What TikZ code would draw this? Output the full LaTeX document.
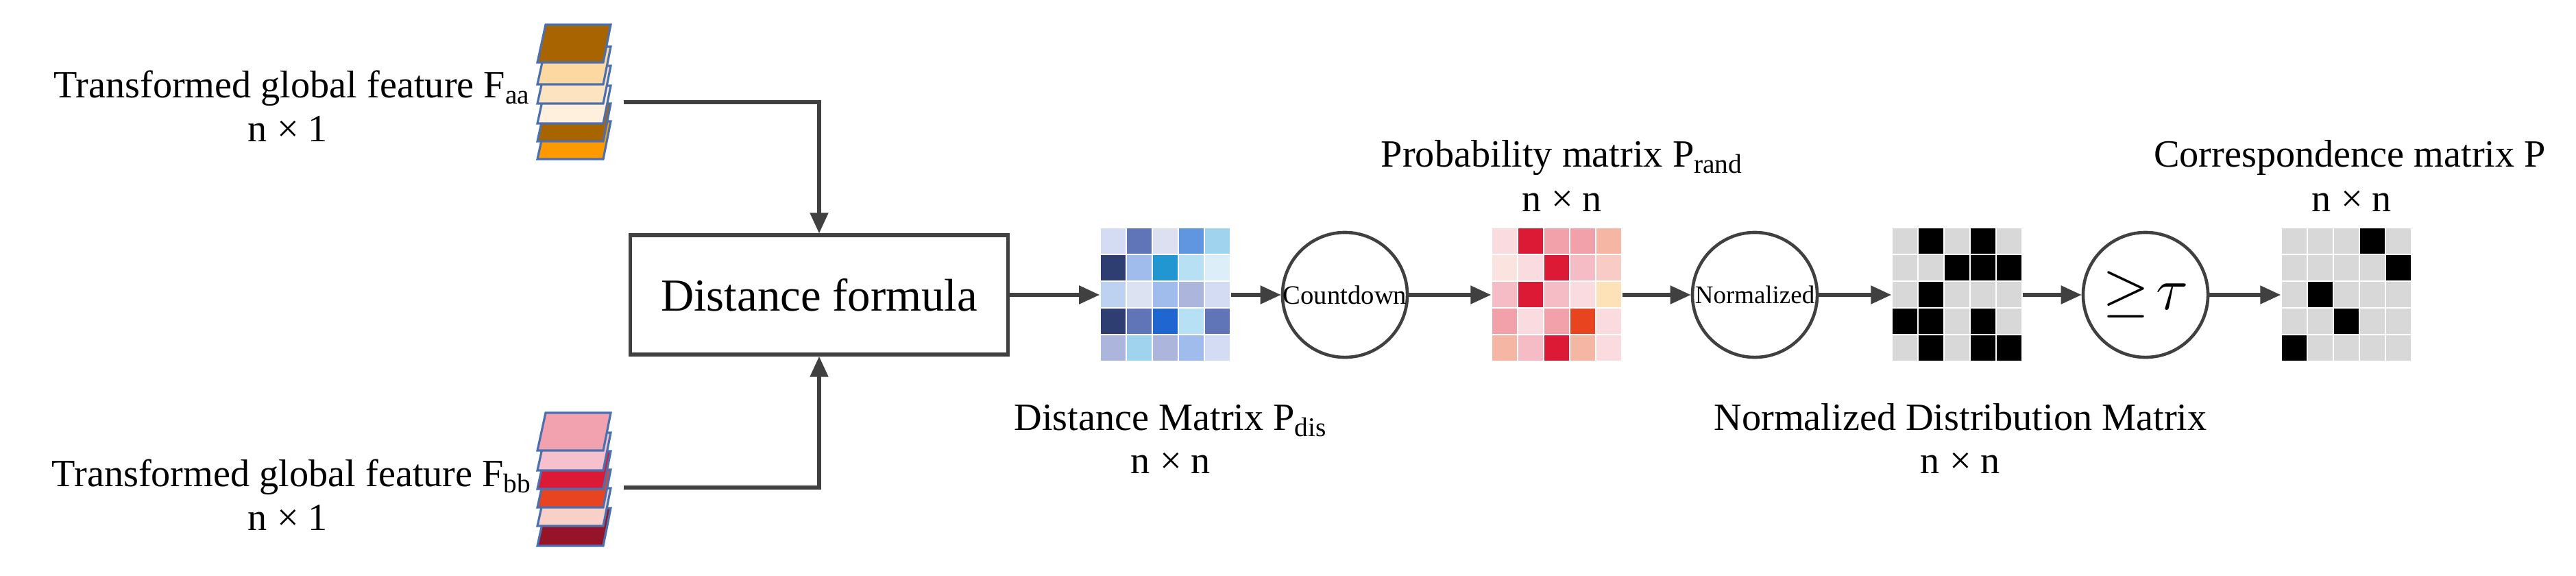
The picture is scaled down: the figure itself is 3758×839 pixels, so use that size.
\documentclass[tikz,border=0pt]{standalone}
\usepackage{fontspec}
\setmainfont{Liberation Serif}
\usetikzlibrary{arrows.meta}
\definecolor{ln}{HTML}{404040}
\definecolor{edge}{HTML}{4A70B0}
\begin{document}
\begin{tikzpicture}[x=0.01cm,y=-0.01cm,
  lbl/.style={anchor=base,font=\fontsize{16}{18}\selectfont,inner sep=0pt},
  arr/.style={draw=ln,line width=1.5pt,-{Triangle[length=0.3cm,width=0.26cm]}},
  op/.style={circle,draw=ln,line width=1.3pt,minimum size=1.82cm,inner sep=0pt},
  mat/.style={minimum width=1.9cm,minimum height=1.95cm,inner sep=0pt}]
\useasboundingbox (0,0) rectangle (3758,839);
% feature stacks
\foreach \t/\c [count=\k] in {177/FF9900,151/A86400,125/FFF0DE,96/FDE3C0,68/FDD8A0,36/A86400}{
  \definecolor{tmp}{HTML}{\c}
  \draw[edge,line width=0.9pt,fill=tmp] (796,\t) -- (891,\t) -- (880,\t+55) -- (784,\t+55) -- cycle;}
\foreach \t/\c in {741/961428,712/F8D0C8,685/E84422,658/DC1A36,631/F6C0CC,602/F2A2AE}{
  \definecolor{tmp}{HTML}{\c}
  \draw[edge,line width=0.9pt,fill=tmp] (796,\t) -- (891,\t) -- (880,\t+55) -- (784,\t+55) -- cycle;}
\coordinate (fa) at (910,149);
\coordinate (fb) at (910,711);
\node[lbl] (ta) at (426,142) {Transformed global feature F\textsubscript{aa}};
\node[lbl] (na) at (420,206) {n × 1};
\node[lbl] (tb) at (426,709) {Transformed global feature F\textsubscript{bb}};
\node[lbl] (nb) at (420,773) {n × 1};
% box
\node[draw=ln,line width=1.5pt,minimum width=5.5cm,minimum height=1.74cm,font=\fontsize{19}{22}\selectfont] (box) at (1195,430) {Distance formula};
\draw[arr] (fa) -| (box.north);
\draw[arr] (fb) -| (box.south);
% matrices
\newcommand\drawmat[3]{% x0, y0, colours
  \foreach \c [count=\i from 0] in {#3}{
    \pgfmathtruncatemacro\r{\i/5}\pgfmathtruncatemacro\q{mod(\i,5)}
    \definecolor{tmp}{HTML}{\c}
    \fill[tmp] (#1+\q*38+1,#2+\r*39+1) rectangle ++(36,37);}}
\drawmat{1605}{332}{D3DCF3,6074B8,DCE0F0,6096E0,A0D4EE,2E3E70,A0BCEC,2296D0,B8E0F4,DCEEF8,BCD2F0,DCE2F2,A0BCEC,ACB6DC,D3DCF3,2E3E70,6074B8,1F66D0,B8E0F4,6074B8,ACB6DC,A0D4EE,ACB6DC,A0BCEC,D3DCF3}
\drawmat{2176}{332}{FADCE0,DC1A36,F2A0AA,F2A0AA,F6B6A4,FBE4E0,FADCE0,DC1A36,F6BCC6,F8CCC4,F6BCC6,DC1A36,F6BCC6,FADCE0,FDE2B8,F2A0AA,FADCE0,F2A0AA,E84420,FADCE0,F6B6A4,F6BCC6,DC1A36,F6B6A4,FADCE0}
\drawmat{2760}{332}{D8D8D8,000000,D8D8D8,000000,D8D8D8,D8D8D8,D8D8D8,000000,000000,000000,D8D8D8,000000,D8D8D8,D8D8D8,D8D8D8,000000,000000,D8D8D8,000000,D8D8D8,D8D8D8,000000,D8D8D8,000000,000000}
\drawmat{3328}{332}{D8D8D8,D8D8D8,D8D8D8,000000,D8D8D8,D8D8D8,D8D8D8,D8D8D8,D8D8D8,000000,D8D8D8,000000,D8D8D8,D8D8D8,D8D8D8,D8D8D8,D8D8D8,000000,D8D8D8,D8D8D8,000000,D8D8D8,D8D8D8,D8D8D8,D8D8D8}
\node[mat] (m1) at (1700,430) {};
\node[mat] (m2) at (2271,430) {};
\node[mat] (m3) at (2855,430) {};
\node[mat] (m4) at (3423,430) {};
% operators
\node[op,font=\fontsize{11}{13}\selectfont] (cd) at (1962,430) {Countdown};
\node[op,font=\fontsize{10.5}{12}\selectfont] (nz) at (2560,430) {Normalized};
\node[op,font=\fontsize{24}{26}\selectfont] (th) at (3130,430) {$\geq\!\tau$};
\draw[arr] (box) -- (m1);
\draw[arr] (m1) -- (cd);
\draw[arr] (cd) -- (m2);
\draw[arr] (m2) -- (nz);
\draw[arr] (nz) -- (m3);
\draw[arr] (m3) -- (th);
\draw[arr] (th) -- (m4);
% labels
\node[lbl] (l1) at (1708,627) {Distance Matrix P\textsubscript{dis}};
\node[lbl] (l1n) at (1708,690) {n × n};
\node[lbl] (l2) at (2279,243) {Probability matrix P\textsubscript{rand}};
\node[lbl] (l2n) at (2279,308) {n × n};
\node[lbl] (l3) at (2860,627) {Normalized Distribution Matrix};
\node[lbl] (l3n) at (2860,690) {n × n};
\node[lbl] (l4) at (3428,243) {Correspondence matrix P};
\node[lbl] (l4n) at (3431,308) {n × n};
\end{tikzpicture}
\end{document}
